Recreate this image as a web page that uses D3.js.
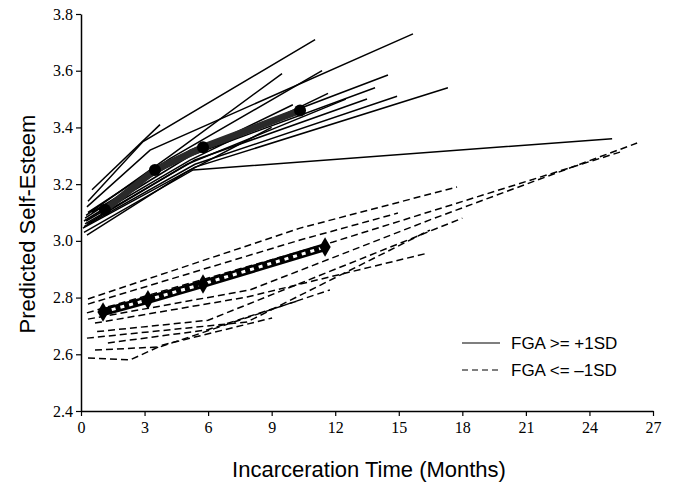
<!DOCTYPE html>
<html>
<head>
<meta charset="utf-8">
<script src="https://cdn.jsdelivr.net/npm/d3@7"></script>
<style>
  body { margin: 0; background: #fff; }
</style>
</head>
<body>
<div id="chart"></div>
<script>
// individual trajectories, [month, self-esteem]
var highFGA = [
  [[0.52, 3.18], [3.73, 3.41]],
  [[0.33, 3.14], [2.93, 3.35], [11.05, 3.71]],
  [[0.28, 3.12], [3.26, 3.32], [15.67, 3.73]],
  [[0.24, 3.09], [4.20, 3.30], [9.49, 3.59]],
  [[0.33, 3.10], [4.20, 3.29], [11.38, 3.60]],
  [[0.19, 3.08], [5.15, 3.32], [14.49, 3.585]],
  [[0.14, 3.07], [5.15, 3.30], [13.88, 3.54]],
  [[0.24, 3.07], [5.15, 3.285], [11.66, 3.52]],
  [[0.19, 3.06], [5.38, 3.285], [13.50, 3.50]],
  [[0.14, 3.05], [5.38, 3.27], [14.92, 3.51]],
  [[0.09, 3.045], [5.38, 3.26], [17.32, 3.54]],
  [[0.14, 3.03], [5.29, 3.25], [25.07, 3.36]],
  [[0.50, 3.10], [4.50, 3.28], [10.00, 3.48]],
  [[0.30, 3.06], [5.00, 3.27], [12.50, 3.50]],
  [[0.28, 3.02], [4.91, 3.24], [9.00, 3.40]]
];
var lowFGA = [
  [[0.33, 2.795], [10.34, 3.045], [17.75, 3.19]],
  [[0.33, 2.777], [10.34, 3.003], [14.96, 3.098]],
  [[0.28, 2.746], [11.90, 2.996], [25.44, 3.313]],
  [[0.33, 2.724], [7.98, 2.827], [16.47, 3.074], [26.25, 3.345]],
  [[0.66, 2.71], [7.84, 2.802], [16.38, 2.957]],
  [[0.76, 2.68], [6.00, 2.72], [18.00, 3.08]],
  [[0.28, 2.657], [7.84, 2.714], [16.47, 3.038]],
  [[1.27, 2.64], [5.95, 2.686], [10.34, 2.791]],
  [[0.66, 2.615], [3.73, 2.626], [7.51, 2.721], [11.75, 2.827]],
  [[0.33, 2.587], [2.31, 2.58], [3.87, 2.633], [9.02, 2.728]]
];
// group means
var highMean = [[1.13, 3.11], [3.49, 3.25], [5.76, 3.33], [10.34, 3.46]];
var lowMean = [[1.04, 2.749], [3.16, 2.792], [5.76, 2.848], [11.52, 2.978]];

var xTicks = [0, 3, 6, 9, 12, 15, 18, 21, 24, 27];
var yTicks = [2.4, 2.6, 2.8, 3.0, 3.2, 3.4, 3.6, 3.8];
var legendLabels = ["FGA >= +1SD", "FGA <= \u20131SD"];

var margin = {top: 14, left: 81};
var width = 572, height = 397;
var serif = "'Liberation Serif', 'Times New Roman', serif";
var sans = "'Liberation Sans', Arial, Helvetica, sans-serif";

var svg = d3.select("#chart").append("svg")
    .attr("width", 677)
    .attr("height", 486);
var g = svg.append("g").attr("transform", "translate(" + margin.left + "," + margin.top + ")");

var x = d3.scaleLinear().domain([0, 27]).range([0, width]);
var y = d3.scaleLinear().domain([2.4, 3.8]).range([height, 0]);

var line = d3.line().x(d => x(d[0])).y(d => y(d[1]));

// axes
var xAxis = d3.axisBottom(x).tickValues(xTicks).tickSize(5).tickSizeOuter(0);
var yAxis = d3.axisLeft(y).tickValues(yTicks).tickFormat(d3.format(".1f")).tickSize(5).tickSizeOuter(0);

var gx = g.append("g").attr("transform", "translate(0," + height + ")").call(xAxis);
var gy = g.append("g").call(yAxis);
[gx, gy].forEach(a => {
  a.attr("font-family", null).attr("font-size", null);
  a.select(".domain").attr("stroke-width", 1.5);
  a.selectAll(".tick line").attr("stroke-width", 1.2);
  a.selectAll("text").style("font-family", serif).style("font-size", "16px").attr("fill", "#000");
});
gx.selectAll("text").attr("dy", "0.85em");

// low group, dashed
g.append("g").selectAll("path").data(lowFGA).join("path")
  .attr("d", line).attr("fill", "none").attr("stroke", "#000")
  .attr("stroke-width", 1.5).attr("stroke-dasharray", "7,4");

// high group, solid
g.append("g").selectAll("path").data(highFGA).join("path")
  .attr("d", line).attr("fill", "none").attr("stroke", "#000")
  .attr("stroke-width", 1.5);

// mean lines
g.append("path").datum(highMean).attr("d", line)
  .attr("fill", "none").attr("stroke", "#2a2a2a").attr("stroke-width", 7);
g.selectAll(".hm").data(highMean).join("circle").attr("class", "hm")
  .attr("cx", d => x(d[0])).attr("cy", d => y(d[1])).attr("r", 6).attr("fill", "#000");

g.append("path").datum(lowMean).attr("d", line)
  .attr("fill", "none").attr("stroke", "#000").attr("stroke-width", 8);
g.append("path").datum(lowMean).attr("d", line)
  .attr("fill", "none").attr("stroke", "#fff").attr("stroke-width", 3).attr("stroke-dasharray", "4,5");
g.selectAll(".lm").data(lowMean).join("path").attr("class", "lm")
  .attr("d", d3.symbol().type(d3.symbolDiamond).size(110))
  .attr("transform", d => "translate(" + x(d[0]) + "," + y(d[1]) + ")")
  .attr("fill", "#000");

// axis titles
svg.append("text").attr("x", 369).attr("y", 477).attr("text-anchor", "middle")
  .style("font-family", sans).style("font-size", "22px")
  .text("Incarceration Time (Months)");
svg.append("text").attr("transform", "translate(35,224) rotate(-90)").attr("text-anchor", "middle")
  .style("font-family", sans).style("font-size", "22px")
  .text("Predicted Self-Esteem");

// legend
var lg = svg.append("g").attr("transform", "translate(462,343)");
lg.selectAll("line").data(legendLabels).join("line")
  .attr("x1", 0).attr("x2", 38)
  .attr("y1", (d, i) => i * 27).attr("y2", (d, i) => i * 27)
  .attr("stroke", "#000").attr("stroke-width", 1.2)
  .attr("stroke-dasharray", (d, i) => i ? "6,4" : null);
lg.selectAll("text").data(legendLabels).join("text")
  .attr("x", 49).attr("y", (d, i) => i * 27 + 6)
  .style("font-family", sans).style("font-size", "17px")
  .text(d => d);
</script>
</body>
</html>
